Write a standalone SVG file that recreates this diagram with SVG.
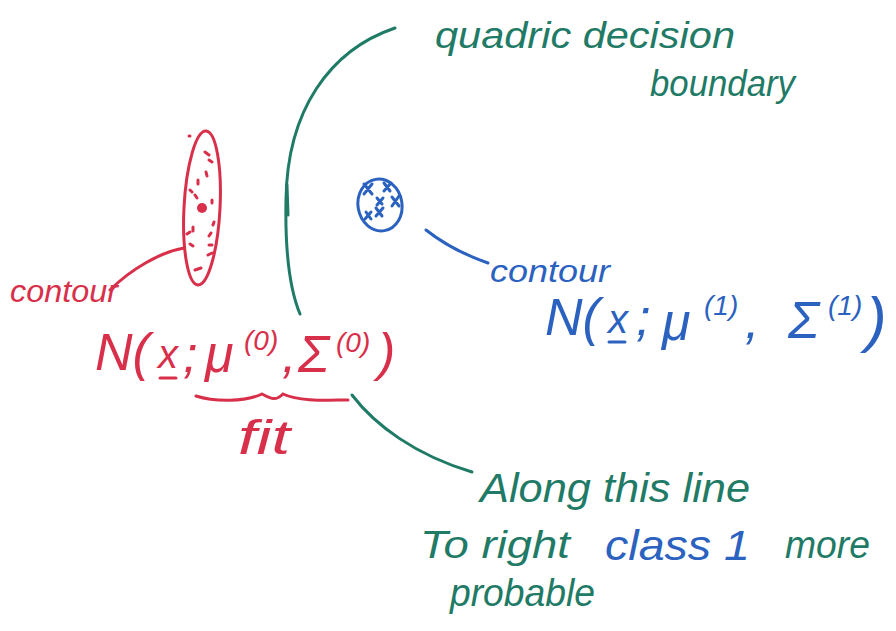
<svg xmlns="http://www.w3.org/2000/svg" width="896" height="631" viewBox="0 0 896 631">
<style>
.r{stroke:#d8304a;fill:none;stroke-width:3;stroke-linecap:round}
.g{stroke:#1f7a66;fill:none;stroke-width:3;stroke-linecap:round}
.b{stroke:#2b62bf;fill:none;stroke-width:3;stroke-linecap:round}
text{font-family:"Liberation Sans","DejaVu Sans",sans-serif;font-style:italic}
.tr{fill:#d8304a}
.tg{fill:#1f7a66}
.tb{fill:#2b62bf}
</style>
<rect width="896" height="631" fill="#fff"/>
<g id="boundary">
<path class="g" d="M395,28 C330,50 287,110 286,200 C285,250 290,290 300,314"/>
<path class="g" d="M287,185 L288,215" stroke-width="4"/>
</g>
<g id="class0">
<ellipse class="r" cx="202" cy="208" rx="18" ry="77" transform="rotate(3 202 208)"/>
<circle cx="202" cy="208" r="5" fill="#d8304a"/>
<path class="r" stroke-width="2.5" d="M205,152 l4,3 M209,160 l3,2 M206,172 l1,4 M198,180 l0,4 M190,190 l2,2 M195,195 l2,3 M212,200 l0,3 M214,222 l-1,3 M193,227 l0,4 M187,234 l3,-2 M211,233 l-2,3 M190,244 l3,2 M209,245 l3,0 M212,253 l-4,2 M195,270 l6,-2 M189,136 l1,0"/>
</g>
<g id="class1">
<ellipse class="b" cx="380" cy="205" rx="22" ry="26" transform="rotate(-10 380 205)"/>
<path class="b" stroke-width="2.5" d="M364,184 l8,10 M372,184 l-8,10 M384,183 l6,8 M391,183 l-7,8 M392,197 l7,9 M399,196 l-7,10 M377,198 l5,6 M383,198 l-6,7 M376,208 l6,8 M383,208 l-7,8 M366,212 l5,7 M371,212 l-6,7"/>
</g>
<g id="connectors">
<path class="r" stroke-width="2" d="M110,290 C130,270 160,252 184,248"/>
<path class="b" stroke-width="2" d="M426,230 C445,245 465,255 488,263"/>
<path class="g" d="M352,395 C375,425 415,455 472,472"/>
<path class="r" d="M196,396 C215,402 245,402 262,394 C270,398 275,402 283,394 C300,402 330,400 348,400"/>
</g>
<g id="labels">
<text x="435" y="48" class="tg" font-size="36" textLength="300" lengthAdjust="spacingAndGlyphs">quadric decision</text>
<text x="650" y="96" class="tg" font-size="36" textLength="145" lengthAdjust="spacingAndGlyphs">boundary</text>
<text x="10" y="302" class="tr" font-size="32" textLength="108" lengthAdjust="spacingAndGlyphs">contour</text>
<g font-size="52">
<text x="95" y="370" class="tr">N(</text>
<text x="158" y="368" class="tr" font-size="40">x</text>
<text x="183" y="372" class="tr">;</text>
<text x="205" y="372" class="tr">μ</text>
<text x="244" y="350" class="tr" font-size="28">(0)</text>
<text x="282" y="372" class="tr">,</text>
<text x="298" y="372" class="tr">Σ</text>
<text x="336" y="352" class="tr" font-size="28">(0)</text>
<text x="378" y="370" class="tr">)</text>
</g>
<path class="r" d="M160,378 l16,0" stroke-width="2.5"/>
<text x="238" y="454" class="tr" font-size="48" textLength="52" lengthAdjust="spacingAndGlyphs">fit</text>
<text x="490" y="282" class="tb" font-size="32" textLength="120" lengthAdjust="spacingAndGlyphs">contour</text>
<g font-size="52">
<text x="545" y="335" class="tb">N(</text>
<text x="608" y="333" class="tb" font-size="40">x</text>
<text x="636" y="335" class="tb">;</text>
<text x="662" y="340" class="tb">μ</text>
<text x="704" y="315" class="tb" font-size="28">(1)</text>
<text x="745" y="338" class="tb">,</text>
<text x="788" y="338" class="tb">Σ</text>
<text x="828" y="315" class="tb" font-size="28">(1)</text>
<text x="866" y="340" class="tb" font-size="62">)</text>
</g>
<path class="b" d="M609,342 l16,0" stroke-width="2.5"/>
<text x="480" y="502" class="tg" font-size="40" textLength="270" lengthAdjust="spacingAndGlyphs">Along this line</text>
<text x="420" y="558" class="tg" font-size="38" textLength="150" lengthAdjust="spacingAndGlyphs">To right</text>
<text x="605" y="560" class="tb" font-size="42" textLength="145" lengthAdjust="spacingAndGlyphs">class 1</text>
<text x="785" y="558" class="tg" font-size="38" textLength="85" lengthAdjust="spacingAndGlyphs">more</text>
<text x="450" y="606" class="tg" font-size="38" textLength="145" lengthAdjust="spacingAndGlyphs">probable</text>
</g>
</svg>
